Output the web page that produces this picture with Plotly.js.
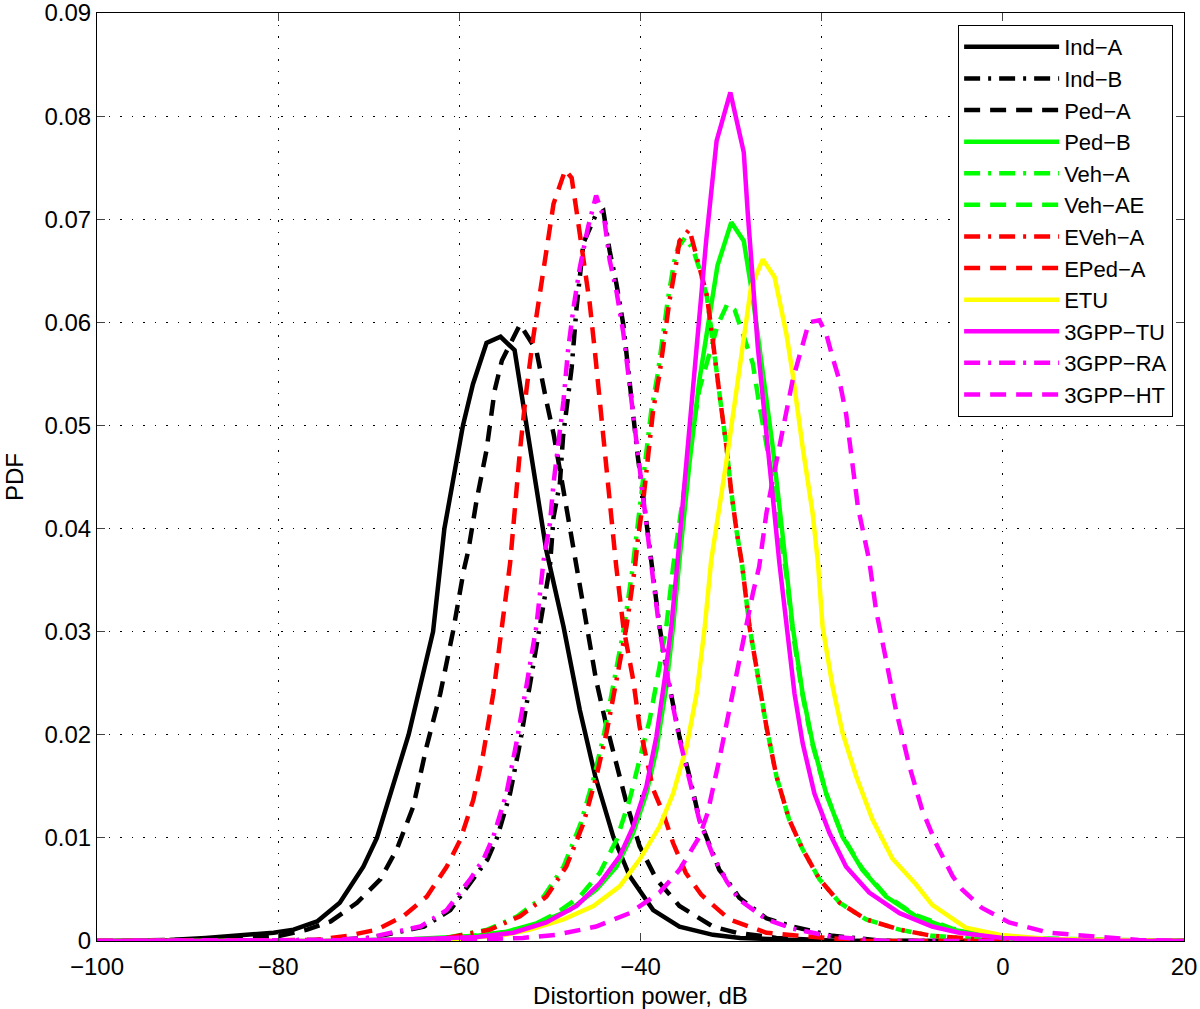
<!DOCTYPE html>
<html>
<head>
<meta charset="utf-8">
<script src="https://cdn.plot.ly/plotly-3.0.1.min.js"></script>
<style>html,body{margin:0;padding:0;background:#fff;}#chart{width:1200px;height:1009px;}</style>
</head>
<body>
<div id="chart"></div>
<script>
// ---- data (x: distortion power in dB, y: PDF) ----
const seriesNames = ["Ind\u2212A","Ind\u2212B","Ped\u2212A","Ped\u2212B","Veh\u2212A","Veh\u2212AE","EVeh\u2212A","EPed\u2212A","ETU","3GPP\u2212TU","3GPP\u2212RA","3GPP\u2212HT"];

const indA_x = [-100,-92,-88,-84.2,-80.5,-78.3,-75.7,-73.2,-70.6,-69.1,-67.5,-65.6,-62.9,-61.65,-59.6,-58.5,-57,-55.45,-53.9,-52.6,-51.5,-50.4,-48.5,-46.7,-45,-43,-41.2,-38.6,-35.7,-32,-29,-20,20];
const indA_y = [0,0.0001,0.0003,0.0005,0.0008,0.0011,0.0019,0.0037,0.0072,0.01,0.0147,0.02,0.03,0.04,0.05,0.054,0.058,0.0586,0.0573,0.0502,0.0444,0.0379,0.0305,0.0224,0.016,0.0101,0.0063,0.003,0.0014,0.0006,0.0003,0,0];

const indB_x = [-100,-78,-74,-69.8,-67.2,-63.9,-61,-58.4,-56.9,-55.8,-54.4,-53.3,-52.2,-51.1,-50,-49.6,-48.9,-48.55,-47.6,-47.06,-46.3,-45,-44.1,-43.4,-42.65,-41.9,-41.4,-40.8,-40.3,-39.7,-39,-38.6,-37.9,-36.8,-35.7,-34.6,-33.5,-32,-31.3,-30.5,-29.1,-26.1,-23.2,-18.8,-13,20];
const indB_y = [0,0,0.0001,0.0003,0.0008,0.0014,0.003,0.006,0.0079,0.0101,0.0143,0.0192,0.0247,0.0305,0.0363,0.0411,0.0444,0.0489,0.0556,0.0614,0.0677,0.0703,0.0708,0.0669,0.0637,0.0598,0.0556,0.0516,0.047,0.0431,0.0382,0.0353,0.0305,0.0247,0.0198,0.016,0.0118,0.0085,0.0069,0.006,0.0042,0.0022,0.0014,0.0005,0,0];

const pedA_x = [-100,-90,-84,-79.8,-76.8,-74.2,-71.3,-68.7,-66.9,-65.1,-63.6,-62.1,-60.7,-59.5,-59,-58.1,-57,-56.1,-55.3,-53.3,-51.5,-50.4,-49.6,-48.7,-48,-47.1,-46,-44.9,-43.9,-42.8,-41.55,-40.1,-38.25,-35.7,-32,-29.4,-25,-18,20];
const pedA_y = [0,0.0001,0.0002,0.0005,0.0011,0.0019,0.0037,0.006,0.0089,0.013,0.0189,0.024,0.03,0.036,0.0379,0.0427,0.0476,0.0534,0.0563,0.0598,0.0573,0.0524,0.0492,0.0447,0.0411,0.0369,0.0311,0.0253,0.0214,0.0176,0.0134,0.0092,0.006,0.0034,0.0014,0.0008,0.0003,0,0];

const pedB_x = [-100,-75,-65,-58,-54.8,-51.1,-47.8,-44.86,-42.65,-40.8,-39.35,-38.25,-37.15,-36.4,-35.7,-34.6,-33.5,-32.4,-31.5,-29.98,-28.6,-27.6,-26.86,-26.1,-25.4,-24.66,-24.1,-23.2,-22.1,-21,-19.5,-17.7,-15.5,-12.9,-9.6,-5.6,0,10,20];
const pedB_y = [0,0,0.0002,0.0005,0.0009,0.0018,0.003,0.005,0.0072,0.0105,0.0143,0.0185,0.0247,0.0305,0.0369,0.0463,0.0544,0.0602,0.0655,0.0697,0.0679,0.0624,0.0576,0.0527,0.0479,0.0421,0.0376,0.0305,0.024,0.0192,0.0143,0.0101,0.0069,0.0043,0.0024,0.0011,0.0003,0,0];

const vehA_x = [-100,-70,-62,-56.9,-53.6,-50.7,-48.5,-46.6,-45.1,-44,-42.9,-41.8,-40.9,-40.5,-39.9,-39.4,-38.8,-38.1,-37.5,-37,-36.3,-35.9,-35.1,-34.2,-33.5,-32.7,-32.2,-31.6,-31.1,-30.5,-30,-29.4,-28.8,-27.97,-27.2,-26.1,-25,-23.6,-22.1,-20.25,-18,-15.1,-11.4,-7.8,0,20];
const vehA_y = [0,0,0.0002,0.0011,0.0024,0.0043,0.0072,0.0114,0.016,0.0202,0.0253,0.0305,0.036,0.0389,0.0427,0.0469,0.0515,0.055,0.0589,0.0621,0.0658,0.0672,0.0682,0.0671,0.0652,0.0626,0.0594,0.055,0.0518,0.0479,0.0437,0.0398,0.0366,0.0305,0.0263,0.0208,0.016,0.0118,0.0089,0.006,0.0037,0.0021,0.0011,0.0005,0,0];

const vehAE_x = [-100,-70,-62,-55.5,-52.2,-49.3,-46.7,-44.5,-42.65,-41.2,-40.1,-39,-37.9,-37.15,-36.4,-35.5,-34.5,-33.5,-32.4,-31.5,-30.4,-29.6,-28.7,-27.6,-26.9,-26.1,-25.4,-24.66,-23.9,-23.2,-22.1,-21,-19.5,-17.7,-15.5,-12.9,-9.6,-5.6,0,20];
const vehAE_y = [0,0,0.0002,0.0008,0.0014,0.0027,0.0043,0.0066,0.0098,0.0137,0.0176,0.0214,0.0266,0.0305,0.0363,0.042,0.048,0.0535,0.057,0.0597,0.0618,0.0612,0.0589,0.056,0.0521,0.0479,0.0447,0.04,0.0355,0.03,0.0238,0.019,0.0143,0.0102,0.007,0.0044,0.0025,0.0012,0.0003,0];

const evehA_x = [-100,-70,-62,-56.6,-53.3,-50.4,-48.2,-46.3,-44.86,-43.75,-42.65,-41.55,-40.65,-40.3,-39.7,-39.2,-38.6,-37.9,-37.3,-36.8,-36.05,-35.7,-34.6,-33.5,-32.7,-32.2,-31.6,-31.1,-30.5,-30,-29.4,-28.8,-27.97,-27.2,-26.1,-25,-23.6,-22.1,-20.25,-18,-15.1,-11.4,-7.8,0,20];
const evehA_y = [0,0,0.0002,0.0011,0.0024,0.0043,0.0072,0.0114,0.016,0.0202,0.0253,0.0305,0.036,0.0389,0.0427,0.0469,0.0515,0.055,0.0589,0.0621,0.0658,0.0679,0.069,0.0653,0.0627,0.0595,0.055,0.0518,0.0479,0.0437,0.0398,0.0366,0.0305,0.0263,0.0208,0.016,0.0118,0.0089,0.006,0.0037,0.0021,0.0011,0.0005,0,0];

const epedA_x = [-100,-80,-76,-72.4,-69.1,-66.2,-63.6,-61.4,-59.9,-58.45,-57.35,-56.25,-55.5,-54.4,-53.3,-52.6,-51.85,-51.1,-50.2,-49.6,-48.3,-47.6,-47.06,-46.3,-45.6,-45.05,-44.5,-43.9,-43.4,-42.7,-41.9,-40.8,-40.1,-38.6,-37.5,-36.4,-35,-33.3,-30.2,-26.1,-22.5,-15,20];
const epedA_y = [0,0,0.0001,0.0005,0.0011,0.0024,0.0043,0.0072,0.0098,0.0137,0.0182,0.024,0.029,0.0366,0.0476,0.0534,0.0585,0.0627,0.0682,0.0715,0.0748,0.074,0.0708,0.066,0.0618,0.0573,0.0524,0.0476,0.0427,0.0365,0.0305,0.0253,0.0208,0.0147,0.0124,0.0095,0.0066,0.0045,0.0021,0.0008,0.0005,0,0];

const etu_x = [-100,-70,-60,-55,-52.2,-48.5,-45.2,-42.3,-40.1,-37.9,-36.4,-34.9,-33.8,-32.9,-32.2,-30.55,-29.1,-27.8,-26.5,-25.2,-23.9,-23.2,-22.1,-21,-20.4,-19.9,-18.8,-17.7,-16.2,-14.4,-12.2,-9.6,-7.8,-6.3,-4.1,-0.4,5,20];
const etu_y = [0,0,0.0002,0.0006,0.0011,0.0021,0.0034,0.0053,0.0079,0.0111,0.0143,0.0189,0.024,0.0305,0.0369,0.0463,0.0553,0.0634,0.0661,0.0644,0.0589,0.055,0.0479,0.0415,0.0366,0.0305,0.0247,0.0202,0.016,0.0118,0.008,0.0055,0.0035,0.0026,0.0013,0.0006,0.0002,0];

const tu_x = [-100,-75,-64,-58,-54.05,-50.4,-47.06,-44.5,-42.3,-40.8,-39.35,-38.25,-37.3,-36.6,-35.9,-34.9,-33.8,-32.75,-31.6,-30.08,-28.6,-28.15,-27.6,-27.05,-26.5,-25.9,-25.4,-24.66,-23.9,-23,-22.1,-20.8,-19.15,-17.3,-14.75,-11.4,-7.8,-4.8,0,10,20];
const tu_y = [0,0,0.0002,0.0004,0.0008,0.0018,0.0034,0.0056,0.0082,0.0111,0.015,0.0198,0.0256,0.0305,0.0369,0.0463,0.0576,0.0679,0.0776,0.0823,0.0765,0.0705,0.064,0.0576,0.0527,0.0479,0.0431,0.0366,0.0305,0.024,0.0192,0.0143,0.0105,0.0072,0.0047,0.0027,0.0014,0.0008,0.0003,0,0];

const ra_x = [-100,-78,-74,-70.2,-67.6,-64.3,-61.4,-58.8,-57.35,-56.25,-54.8,-53.7,-52.6,-51.5,-50.7,-50,-49.6,-49.1,-48.5,-48,-47.4,-46.7,-45.8,-44.9,-44,-43.4,-42.65,-41.9,-41.4,-40.8,-40.3,-39.7,-39,-38.6,-37.9,-36.8,-35.7,-34.6,-33.5,-32,-30.5,-29.1,-26.1,-23.2,-18.8,-13,20];
const ra_y = [0,0,0.0001,0.0003,0.0008,0.0014,0.003,0.006,0.0079,0.0101,0.0143,0.0192,0.0247,0.0305,0.0369,0.0405,0.0444,0.0482,0.0524,0.0573,0.0614,0.0653,0.0692,0.0723,0.07,0.066,0.063,0.059,0.0553,0.051,0.047,0.0431,0.0382,0.035,0.0302,0.0245,0.0196,0.0158,0.0117,0.0083,0.0058,0.004,0.0021,0.0012,0.0004,0,0];

const ht_x = [-100,-70,-60,-53,-49.3,-44.9,-41.2,-37.9,-35.7,-33.5,-32.6,-31.3,-30.2,-29.1,-27.6,-26.9,-26.1,-25.4,-24.66,-23.9,-23.2,-22.5,-21.4,-20.25,-19.5,-18.8,-18.05,-17.3,-16.6,-16,-14.75,-14,-12.9,-11.8,-10.3,-8.9,-7.4,-5.55,-4.5,-2.3,0.7,5.1,10.6,15,20];
const ht_y = [0,0,0.0001,0.0003,0.0006,0.0014,0.0027,0.0047,0.0069,0.0101,0.0124,0.0176,0.0224,0.0273,0.0337,0.0363,0.0415,0.0447,0.0479,0.0511,0.0544,0.0566,0.06,0.0602,0.0589,0.0566,0.0544,0.0511,0.0463,0.0421,0.0369,0.0321,0.0273,0.0224,0.0169,0.0127,0.0095,0.0063,0.005,0.0032,0.0018,0.0008,0.0004,0.0001,0];

const xTickVals = [-100,-80,-60,-40,-20,0,20];
const yTickVals = [0,0.01,0.02,0.03,0.04,0.05,0.06,0.07,0.08,0.09];
const yTickText = ["0","0.01","0.02","0.03","0.04","0.05","0.06","0.07","0.08","0.09"];

// ---- styling ----
const DASH = "16px,10px";
const DASHDOT = "16px,8px,3px,8px";
const LW = 4.5;
const styles = [
  {c:"#000000", d:"solid"}, {c:"#000000", d:DASHDOT}, {c:"#000000", d:DASH},
  {c:"#00ff00", d:"solid"}, {c:"#00ff00", d:DASHDOT}, {c:"#00ff00", d:DASH},
  {c:"#ff0000", d:DASHDOT}, {c:"#ff0000", d:DASH},
  {c:"#ffff00", d:"solid"},
  {c:"#ff00ff", d:"solid"}, {c:"#ff00ff", d:DASHDOT}, {c:"#ff00ff", d:DASH}
];
const xs = [indA_x, indB_x, pedA_x, pedB_x, vehA_x, vehAE_x, evehA_x, epedA_x, etu_x, tu_x, ra_x, ht_x];
const ys = [indA_y, indB_y, pedA_y, pedB_y, vehA_y, vehAE_y, evehA_y, epedA_y, etu_y, tu_y, ra_y, ht_y];

const traces = seriesNames.map((n, i) => ({
  type: "scatter", mode: "lines", name: n,
  x: xs[i], y: ys[i],
  legendgroup: "g" + i,
  line: {color: styles[i].c, dash: styles[i].d, width: LW}
}));

const FONT = "Liberation Sans, Arial, Helvetica, sans-serif";
const layout = {
  width: 1200, height: 1009,
  margin: {l: 97, r: 16, t: 13, b: 68},
  paper_bgcolor: "#ffffff", plot_bgcolor: "#ffffff",
  font: {family: FONT, size: 24, color: "#000"},
  showlegend: true,
  legend: {
    x: 0.99, xanchor: "right", y: 0.987, yanchor: "top",
    bgcolor: "#ffffff", bordercolor: "#000000", borderwidth: 1,
    font: {family: FONT, size: 22, color: "#000"},
    tracegroupgap: 0, itemwidth: 95
  },
  xaxis: {
    range: [-100, 20], tickvals: xTickVals, ticks: "inside", ticklen: 8,
    showline: true, mirror: "ticks", linecolor: "#000", linewidth: 1,
    showgrid: true, gridcolor: "#000", gridwidth: 1, griddash: "1.5px,10px",
    zeroline: false, tickfont: {family: FONT, size: 24}, ticklabelstandoff: 4,
    title: {text: "Distortion power, dB", font: {family: FONT, size: 24}, standoff: 8}
  },
  yaxis: {
    range: [0, 0.0900001], tickvals: yTickVals, ticktext: yTickText, ticks: "inside", ticklen: 8,
    showline: true, mirror: "ticks", linecolor: "#000", linewidth: 1,
    showgrid: true, gridcolor: "#000", gridwidth: 1, griddash: "1.5px,10px",
    zeroline: false, tickfont: {family: FONT, size: 24}, ticklabeloverflow: "allow",
    title: {text: "PDF", font: {family: FONT, size: 24}, standoff: 14}
  }
};

Plotly.newPlot("chart", traces, layout, {displayModeBar: false, staticPlot: true});
</script>
</body>
</html>
